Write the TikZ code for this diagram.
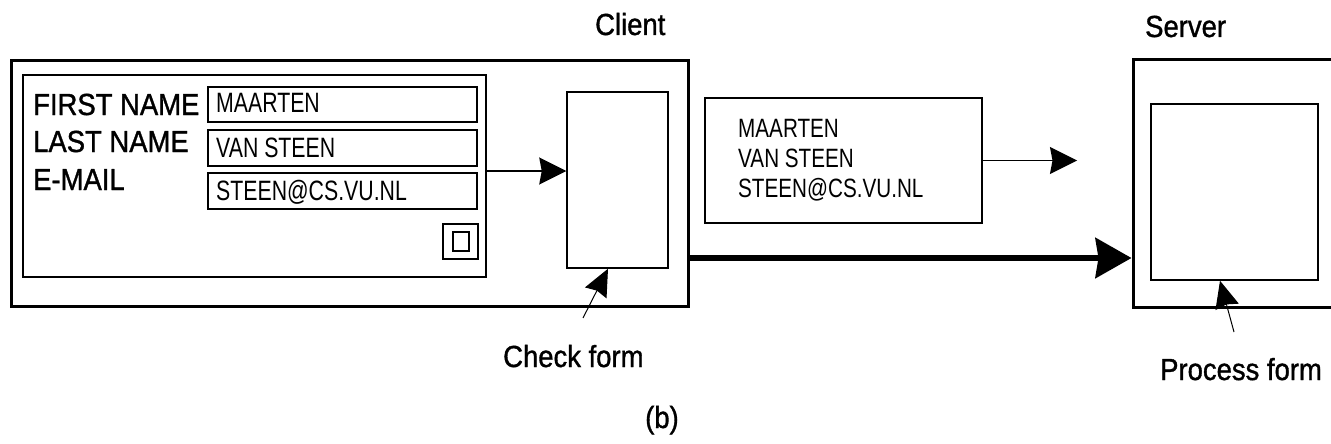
\documentclass[tikz,border=0pt]{standalone}
\usepackage{fontspec}
\setmainfont{Liberation Sans}
\newfontfamily\heavyfont[FakeBold=1.2]{Liberation Sans}
\usetikzlibrary{arrows.meta}
\newcommand{\biglab}[1]{\scalebox{0.9}[1]{\heavyfont\fontsize{30.5}{32}\selectfont #1}}
\newcommand{\fieldtxt}[1]{\scalebox{0.76}[1]{\fontsize{28}{30}\selectfont #1}}
\newcommand{\msgtxt}[1]{\scalebox{0.78}[1]{\fontsize{26.5}{28}\selectfont #1}}
\begin{document}
\begin{tikzpicture}[x=1pt,y=-1pt,
  thickbox/.style={draw, line width=3pt, inner sep=0pt},
  thinbox/.style={draw, line width=1.5pt, inner sep=0pt},
  txt/.style={anchor=base west, inner sep=0pt},
  thinarrow/.style={line width=1.5pt, -{Stealth[length=27pt,width=27pt,inset=2.5pt]}},
  thinline/.style={line width=1pt, -{Stealth[length=27pt,width=24pt,inset=2.5pt]}},
  bigarrow/.style={line width=6pt, -{Stealth[length=36pt,width=40pt,inset=3pt]}}]
\useasboundingbox (0,0) rectangle (1331,444);
\clip (0,0) rectangle (1331,444);
\fill[white] (0,0) rectangle (1331,444);

% client side
\node[thickbox, minimum width=677pt, minimum height=245pt] (client) at (349.5,183.5) {};
\node[thinbox, minimum width=463pt, minimum height=202pt] (form) at (254.5,176) {};
\node[thinbox, minimum width=269pt, minimum height=35pt] (f1) at (342.5,104.5) {};
\node[thinbox, minimum width=269pt, minimum height=36pt] (f2) at (342.5,148) {};
\node[thinbox, minimum width=269pt, minimum height=36pt] (f3) at (342.5,191) {};
\node[thinbox, minimum width=35pt, minimum height=35pt] (cbo) at (460.5,241.5) {};
\node[thinbox, minimum width=16pt, minimum height=19pt] (cbi) at (461,241.5) {};
\node[thinbox, minimum width=101pt, minimum height=176pt] (check) at (617.5,180) {};

\node[txt] (l1) at (33,115) {\biglab{FIRST NAME}};
\node[txt] (l2) at (33,152) {\biglab{LAST NAME}};
\node[txt] (l3) at (33,190) {\biglab{E-MAIL}};
\node[txt] (t1) at (216,113) {\fieldtxt{MAARTEN}};
\node[txt] (t2) at (216,157) {\fieldtxt{VAN STEEN}};
\node[txt] (t3) at (216,200) {\fieldtxt{STEEN@CS.VU.NL}};

% message
\node[thinbox, minimum width=277pt, minimum height=125pt] (msg) at (843.5,160.5) {};
\node[txt] (m1) at (738,137) {\msgtxt{MAARTEN}};
\node[txt] (m2) at (738,167) {\msgtxt{VAN STEEN}};
\node[txt] (m3) at (738,197) {\msgtxt{STEEN@CS.VU.NL}};

% server side
\node[thickbox, minimum width=207pt, minimum height=247pt] (server) at (1236.5,183.5) {};
\node[thinbox, minimum width=167pt, minimum height=176pt] (sin) at (1234.5,192) {};

% labels
\node[txt] (clab) at (595,35) {\biglab{Client}};
\node[txt] (slab) at (1145,37) {\biglab{Server}};
\node[txt] (cf) at (503,367) {\biglab{Check form}};
\node[txt] (pf) at (1160,380) {\biglab{Process form}};
\node[txt] (b) at (645,428) {\biglab{(b)}};

% connectors
\coordinate (yform) at (0,171);
\coordinate (ythick) at (0,258);
\coordinate (msgend) at (1077,160.5);
\coordinate (cftail) at (583,318);
\coordinate (pftail) at (1234,332);
\draw[thinarrow] (form.east |- yform) -- (check.west |- yform);
\draw[thinarrow] (msg.east) -- (msgend);
\draw[bigarrow] (client.east |- ythick) -- (server.west |- ythick);
\draw[thinline] (cftail) -- ([xshift=-9.5pt]check.south);
\draw[thinline] (pftail) -- ([xshift=-14.5pt]sin.south);
\end{tikzpicture}
\end{document}
